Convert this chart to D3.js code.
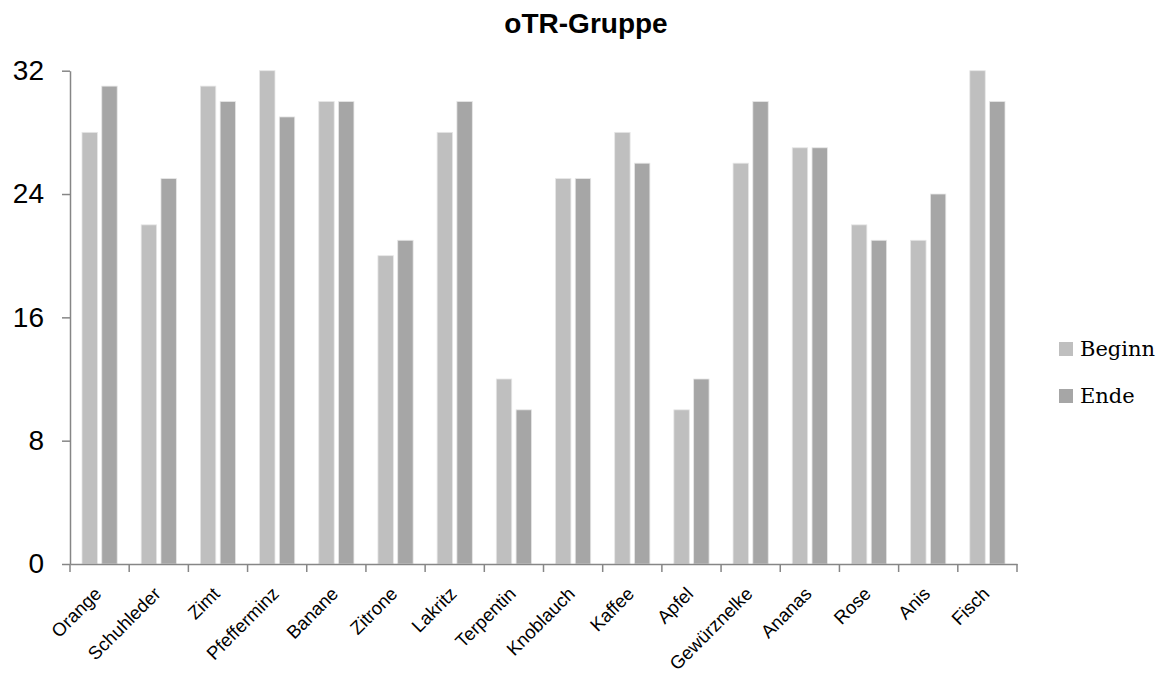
<!DOCTYPE html>
<html><head><meta charset="utf-8">
<script src="https://cdn.jsdelivr.net/npm/d3@7"></script>
<style>body{margin:0;background:#fff}svg{display:block}</style>
</head><body>
<script>
const categories = ["Orange","Schuhleder","Zimt","Pfefferminz","Banane","Zitrone","Lakritz","Terpentin","Knoblauch","Kaffee","Apfel","Gewürznelke","Ananas","Rose","Anis","Fisch"];
const seriesNames = ["Beginn","Ende"];
const beginn = [28,22,31,32,30,20,28,12,25,28,10,26,27,22,21,32];
const ende   = [31,25,30,29,30,21,30,10,25,26,12,30,27,21,24,30];
const yTicks = [0,8,16,24,32];
const colors = {Beginn:"#BFBFBF", Ende:"#A6A6A6"};

const W = 1165, H = 675;
const svg = d3.select("body").append("svg").attr("width",W).attr("height",H);

const x0 = d3.scaleBand().domain(categories).range([70,1017]).paddingInner(0).paddingOuter(0);
const x1 = d3.scaleBand().domain(seriesNames).range([12, x0.bandwidth()-12]).paddingInner(0.22).paddingOuter(0);
const y = d3.scaleLinear().domain([0,32]).range([564,70.7]);

const data = categories.map((c,i)=>({cat:c, vals:[{s:"Beginn",v:beginn[i]},{s:"Ende",v:ende[i]}]}));

// title
svg.append("text").attr("x",586).attr("y",33).attr("text-anchor","middle")
  .attr("font-family","Liberation Sans, Arial, sans-serif").attr("font-weight","bold")
  .attr("font-size",28).attr("fill","#000").text("oTR-Gruppe");

// bars
const g = svg.append("g");
g.selectAll("g.cat").data(data).join("g").attr("class","cat")
  .attr("transform",d=>`translate(${x0(d.cat)},0)`)
  .selectAll("rect").data(d=>d.vals).join("rect")
  .attr("x",d=>x1(d.s)).attr("width",x1.bandwidth())
  .attr("y",d=>y(d.v)).attr("height",d=>y(0)-y(d.v))
  .attr("fill",d=>colors[d.s]).attr("stroke","#e6e6e6").attr("stroke-width",0.8);

// y axis
const yAxis = d3.axisLeft(y).tickValues(yTicks).tickSize(8).tickSizeOuter(0).tickPadding(18);
const ya = svg.append("g").attr("transform","translate(70,0)").call(yAxis);
ya.select(".domain").attr("stroke","#868686").attr("stroke-width",1.5);
ya.selectAll(".tick line").attr("stroke","#868686").attr("stroke-width",1.5);
ya.selectAll("text").attr("font-family","Liberation Sans, Arial, sans-serif").attr("font-size",28).attr("fill","#000");

// x axis
const xAxis = d3.axisBottom(x0).tickSize(0).tickSizeOuter(0);
const xa = svg.append("g").attr("transform","translate(0,564)").call(xAxis);
xa.select(".domain").attr("stroke","#868686").attr("stroke-width",1.5);
xa.selectAll(".tick text")
  .attr("font-family","Liberation Sans, Arial, sans-serif").attr("font-size",18.5).attr("fill","#000")
  .attr("text-anchor","end").attr("dy",null).attr("y",0)
  .attr("transform","translate(3,31) rotate(-45)");
// boundary ticks
const bounds = categories.map(c=>x0(c)).concat([x0.range()[1]]);
xa.selectAll("line.bt").data(bounds).join("line").attr("class","bt")
  .attr("x1",d=>d).attr("x2",d=>d).attr("y1",0).attr("y2",8)
  .attr("stroke","#868686").attr("stroke-width",1.5);

// legend
const lg = svg.append("g");
seriesNames.forEach((s,i)=>{
  const yy = 342 + i*47;
  lg.append("rect").attr("x",1059).attr("y",yy).attr("width",14).attr("height",14).attr("fill",colors[s]);
  lg.append("text").attr("x",1080).attr("y",yy+14).attr("font-family","DejaVu Serif, serif")
    .attr("font-size",21).attr("fill","#000").text(s);
});
</script>
</body></html>
